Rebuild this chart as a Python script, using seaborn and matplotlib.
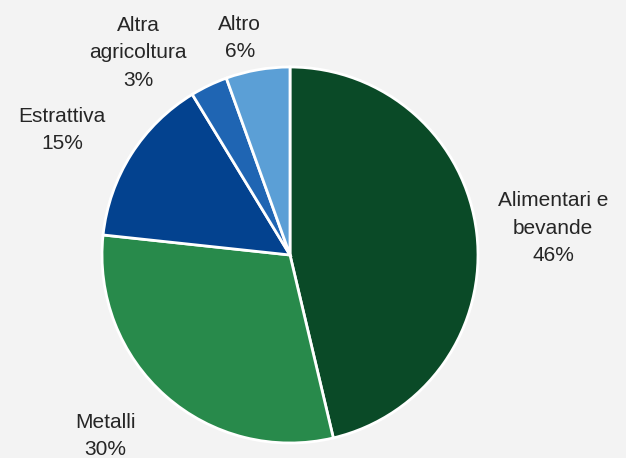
import numpy as np
import matplotlib
matplotlib.use("Agg")
import matplotlib.pyplot as plt
import seaborn as sns

categories = ["Alimentari e\nbevande", "Metalli", "Estrattiva", "Altra\nagricoltura", "Altro"]
shares = [46.3, 30.4, 14.6, 3.2, 5.5]
colors = ["#0a4a27", "#288a4b", "#03428f", "#1f65b3", "#5b9fd6"]

# label distance (in radii) and angle nudge (degrees) per slice
label_dist = [1.406, 1.377, 1.383, 1.345, 1.185]
label_nudge = [-0.8, -4.2, 3.7, 11.4, 3.1]


def main():
    sns.set_theme(style="white")
    plt.rcParams["font.family"] = ["Liberation Sans", "DejaVu Sans"]

    fig = plt.figure(figsize=(6.26, 4.58), dpi=100, facecolor="#f3f3f3")
    ax = fig.add_axes([0, 0, 1, 1])
    ax.set_facecolor("#f3f3f3")

    wedges, _ = ax.pie(shares, colors=colors, startangle=90, counterclock=False,
                       radius=1.0,
                       wedgeprops=dict(edgecolor="white", linewidth=2))

    for w, name, val, d, nudge in zip(wedges, categories, shares, label_dist, label_nudge):
        mid = np.deg2rad((w.theta1 + w.theta2) / 2 + nudge)
        ax.text(d * np.cos(mid), d * np.sin(mid), f"{name}\n{round(val)}%",
                ha="center", va="center", fontsize=15, color="#262626",
                linespacing=1.55)

    ax.set_aspect("auto")
    ax.set_xlim(-290 / 188, 336 / 188)
    ax.set_ylim(-203 / 188, 255 / 188)
    ax.axis("off")

    fig.savefig("out.png", dpi=100, facecolor=fig.get_facecolor())


if __name__ == "__main__":
    main()
